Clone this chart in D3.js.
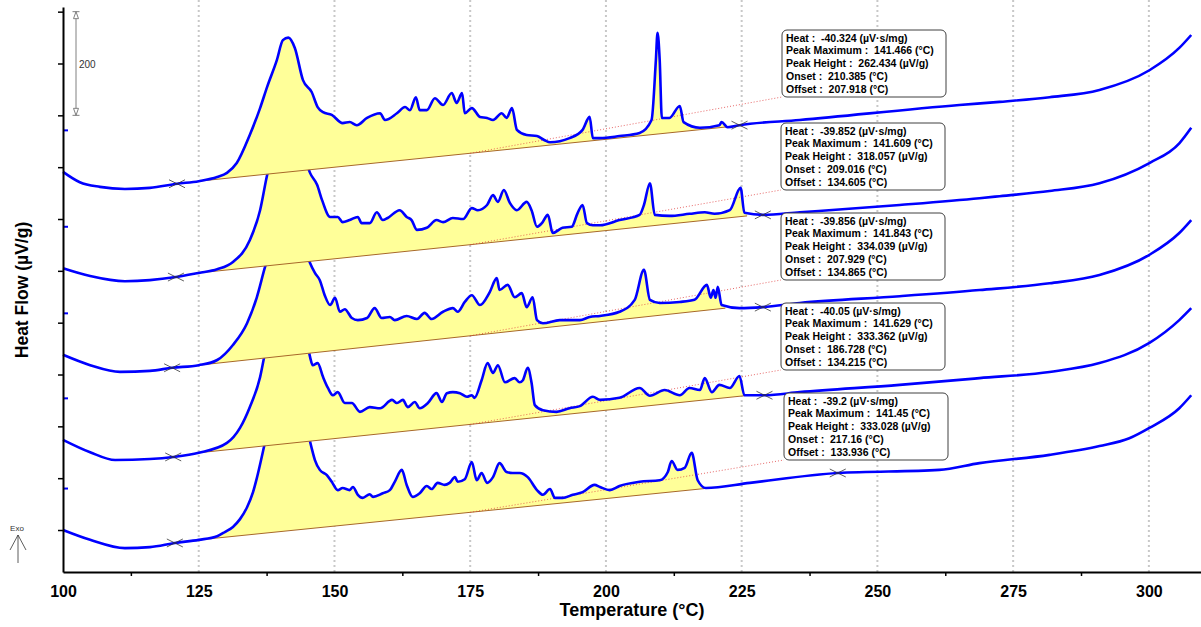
<!DOCTYPE html>
<meta charset="utf-8">
<style>
body { margin: 0; background: #fff; }
svg { display: block; font-family: "Liberation Sans", Arial, sans-serif; }
.box text { font-size: 10.5px; font-weight: bold; white-space: pre; fill: #000; }
</style>
<svg width="1201" height="627"></svg>
<script src="https://d3js.org/d3.v7.min.js"></script>
<script>

// ---------------- data (temperature in °C, heat flow in µV/g incl. stack offset) -------------
var xTicks = [100, 125, 150, 175, 200, 225, 250, 275, 300];
var xMinor = [112.5, 137.5, 162.5, 187.5, 212.5, 237.5, 262.5, 287.5];
var yTicks = [100, 200, 300, 400, 500, 600, 700, 800, 900, 1000, 1100];

var curve1 = [[100,791],[103.1,771],[106.8,762],[111.4,758],[116.0,760],[121.0,768],[125.0,773],[128.4,781],[130.2,789],[132.0,808],[134.4,862],[136.3,914],[137.6,955],[139.4,1007],[140.5,1045],[141.5,1050],[142.7,1030],[144.2,968],[145.8,945],[146.9,916],[147.9,906],[149.5,901],[151.5,885],[152.8,887],[154.1,881],[156.0,895],[158.4,904],[159.3,891],[161.5,904],[163.0,916],[163.9,910],[165.0,935],[165.7,910],[167.0,910],[168.5,933],[170.0,920],[171.6,943],[172.5,924],[173.5,943],[174.0,904],[175.3,914],[176.8,897],[178.1,895],[179.2,891],[180.8,904],[181.7,895],[182.7,914],[183.6,872],[185.4,862],[187.3,860],[188.7,852],[189.7,848],[193.3,856],[195.7,872],[197.0,897],[197.6,856],[198.9,856],[202.5,860],[206.2,866],[208.4,891],[209.2,1007],[209.5,1059],[209.9,1007],[210.3,895],[211.7,895],[213.6,918],[214.3,887],[217.3,876],[220.9,881],[221.3,887],[222.4,877],[224.6,881],[235.7,891],[265.1,920],[272.5,926],[281.7,935],[290.9,949],[300.1,987],[305.6,1030],[307.8,1055]];

var curve2 = [[100,605],[105.0,590],[111.4,580],[116.0,582],[120.8,588],[125.0,596],[128.4,603],[131.3,617],[134.4,659],[136.3,717],[137.6,785],[139.4,852],[140.5,910],[141.6,939],[142.7,910],[144.2,833],[145.5,789],[146.8,766],[147.7,737],[149.2,704],[150.6,704],[151.5,694],[152.8,698],[154.3,704],[155.0,692],[156.5,692],[157.8,713],[158.9,698],[159.8,702],[162.0,717],[163.3,704],[164.2,698],[165.2,679],[167.0,683],[168.8,698],[170.0,694],[171.8,702],[173.7,700],[175.3,721],[176.4,717],[178.1,727],[179.2,746],[180.1,733],[181.2,756],[182.3,731],[183.6,717],[185.4,733],[186.3,717],[187.3,685],[188.2,692],[189.3,708],[190.2,673],[192.0,683],[193.7,685],[194.8,712],[195.7,727],[196.5,692],[197.6,688],[198.9,688],[202.5,698],[206.2,708],[207.0,727],[208.1,769],[209.0,708],[211.7,706],[215.4,710],[218.2,713],[220.0,710],[222.8,717],[224.8,760],[225.5,712],[228.9,708],[235.7,713],[254.1,727],[268.8,740],[272.5,744],[281.7,754],[290.9,769],[300.1,808],[305.6,846],[307.8,876]];

var curve3 = [[100,438],[105.0,418],[110.5,405],[116.0,407],[120.1,413],[125.0,418],[128.4,428],[131.3,457],[133.9,499],[135.7,549],[137.2,607],[139.4,679],[140.5,727],[141.8,756],[143.1,727],[144.2,659],[145.5,615],[146.4,596],[147.3,582],[148.2,553],[149.2,534],[150.1,548],[151.0,521],[151.9,526],[153.2,509],[154.3,505],[156.0,509],[157.4,528],[158.7,509],[160.2,511],[161.1,505],[163.3,513],[165.2,507],[166.6,519],[167.9,507],[170.0,521],[171.8,528],[172.7,521],[174.0,540],[175.3,553],[176.8,534],[178.6,559],[179.9,586],[180.4,563],[181.9,573],[183.2,549],[184.5,557],[185.4,530],[186.5,549],[187.3,505],[188.4,499],[191.5,505],[195.2,505],[197.0,511],[198.9,513],[202.5,521],[205.3,544],[207.0,602],[208.1,544],[209.9,538],[213.6,540],[216.3,544],[218.6,573],[219.3,548],[219.8,563],[220.2,548],[220.6,569],[221.3,534],[224.6,528],[228.9,530],[235.7,538],[254.1,551],[268.8,563],[281.7,576],[290.9,592],[300.1,631],[305.6,673],[307.8,698]];

var curve4 = [[100,274],[105.0,250],[109.6,235],[116.0,237],[120.3,241],[125.0,249],[130.2,268],[132.6,297],[134.4,337],[136.3,395],[137.2,441],[139.4,524],[140.5,573],[141.6,592],[143.1,563],[144.6,486],[145.5,434],[146.0,418],[146.9,422],[147.9,395],[148.8,374],[149.7,360],[150.6,366],[151.9,345],[153.2,345],[154.7,328],[156.5,337],[158.4,335],[160.6,351],[161.5,345],[162.6,351],[163.5,337],[164.8,347],[165.7,335],[167.2,345],[168.8,364],[169.8,347],[170.7,364],[171.8,366],[173.1,364],[174.4,357],[175.3,360],[175.8,355],[177.1,389],[178.2,422],[179.2,403],[180.1,418],[181.4,385],[183.2,393],[184.1,385],[184.7,389],[185.6,413],[186.3,384],[186.9,341],[188.4,331],[190.9,328],[193.3,335],[195.2,339],[197.6,357],[198.9,351],[202.5,355],[206.2,374],[208.1,359],[210.8,370],[213.6,360],[215.4,374],[217.3,370],[218.2,393],[219.5,366],[220.9,380],[222.8,374],[224.6,397],[225.5,360],[229.2,360],[235.7,366],[254.1,380],[268.8,393],[281.7,405],[290.9,422],[300.1,461],[305.6,505],[307.8,528]];

var curve5 = [[100,100],[105.0,81],[111.4,65],[116.0,67],[120.6,75],[125.0,81],[128.4,88],[129.8,96],[131.3,106],[132.6,121],[133.9,144],[135.0,173],[135.7,200],[136.8,250],[138.1,312],[139.4,370],[140.5,413],[141.4,424],[142.7,399],[144.2,331],[145.8,258],[146.4,235],[147.3,216],[148.6,206],[149.5,193],[150.6,177],[151.5,181],[152.8,177],[153.4,183],[154.3,168],[155.2,162],[156.5,169],[157.1,164],[158.9,171],[160.2,177],[161.1,193],[162.4,216],[163.3,187],[164.4,164],[165.7,171],[167.0,185],[167.9,179],[169.0,191],[170.3,187],[171.2,191],[172.2,202],[172.7,193],[174.0,198],[175.3,231],[176.2,196],[177.1,210],[178.1,191],[179.2,202],[180.4,229],[181.7,212],[182.8,210],[184.1,210],[185.6,202],[187.3,177],[188.4,168],[189.7,179],[190.6,162],[192.0,162],[193.9,168],[195.7,173],[197.9,187],[198.9,183],[200.7,177],[202.5,185],[206.2,193],[209.9,196],[211.4,212],[212.1,233],[213.2,216],[214.5,220],[215.8,249],[216.9,196],[218.4,181],[226.5,191],[242.7,210],[261.4,216],[268.8,229],[281.7,245],[290.9,262],[296.4,277],[300.1,297],[305.6,335],[307.8,360]];

var curves = [curve1, curve2, curve3, curve4, curve5];

// integration baselines: [start, end] as [°C, µV/g]
var baselines = [
  [[125, 773], [223.5, 879]],
  [[125, 596], [226.0, 706]],
  [[125, 418], [222.0, 528]],
  [[125, 249], [225.5, 359]],
  [[125, 81],  [218.2, 180]]
];
// temperatures of the x markers on each curve
var markTemps = [[121.0, 224.6], [120.8, 228.9], [120.1, 228.9], [120.3, 229.2], [120.6, 242.7]];

var heatVals   = ["-40.324", "-39.852", "-39.856", "-40.05", "-39.2"];
var peakMaxes  = ["141.466", "141.609", "141.843", "141.629", "141.45"];
var peakHts    = ["262.434", "318.057", "334.039", "333.362", "333.028"];
var onsets     = ["210.385", "209.016", "207.929", "186.728", "217.16"];
var offsets    = ["207.918", "134.605", "134.865", "134.215", "133.936"];

// ---------------- layout -------------
var svg = d3.select("svg");
var plotL = 63, plotR = 1201, plotT = 7, plotB = 572;
var boxPos = [[782, 30], [781, 123], [781, 213], [781, 303], [784, 393]];
var boxW = 164, boxH = 67;

var x = d3.scaleLinear().domain([100, 309.6]).range([plotL, plotR]);
var y = d3.scaleLinear().domain([19, 1109]).range([plotB, plotT]);

function interp(c, t) {
  for (var i = 1; i < c.length; i++) {
    if (c[i][0] >= t) {
      var a = c[i - 1], b = c[i];
      return a[1] + (b[1] - a[1]) * (t - a[0]) / (b[0] - a[0]);
    }
  }
  return c[c.length - 1][1];
}
function baseAt(b, t) {
  return b[0][1] + (b[1][1] - b[0][1]) * (t - b[0][0]) / (b[1][0] - b[0][0]);
}

// dotted vertical grid
svg.append("g").selectAll("line")
   .data(xTicks.slice(1))
   .join("line")
   .attr("x1", d => x(d)).attr("x2", d => x(d))
   .attr("y1", 0).attr("y2", plotB)
   .attr("stroke", "#c8c8c8")
   .attr("stroke-width", 2)
   .attr("stroke-dasharray", "2,3");

var line = d3.line().x(d => x(d[0])).y(d => y(d[1])).curve(d3.curveMonotoneX);

var plot = svg.append("g");

// bottom curve first so the fill of the curve above covers it
curves.slice().reverse().forEach(function (c, r) {
  var k = curves.length - 1 - r, b = baselines[k];
  var g = plot.append("g");

  var pts = [[b[0][0], interp(c, b[0][0])]]
      .concat(c.filter(d => d[0] > b[0][0] && d[0] < b[1][0]))
      .concat([[b[1][0], interp(c, b[1][0])]]);

  g.append("path")
   .datum(pts)
   .attr("fill", "#ffff99")
   .attr("d", d3.area()
        .x(d => x(d[0]))
        .y0(d => y(baseAt(b, d[0])))
        .y1(d => y(d[1]))
        .curve(d3.curveMonotoneX));

  g.append("line")
   .attr("x1", x(b[0][0])).attr("y1", y(b[0][1]))
   .attr("x2", x(b[1][0])).attr("y2", y(b[1][1]))
   .attr("stroke", "#a8682a")
   .attr("stroke-width", 1);

  // leader to the result box
  g.append("line")
   .attr("x1", x(175)).attr("y1", y(baseAt(b, 175)))
   .attr("x2", boxPos[k][0]).attr("y2", boxPos[k][1] + boxH)
   .attr("stroke", "#e04040")
   .attr("stroke-width", 0.8)
   .attr("stroke-dasharray", "1,2");

  g.append("path")
   .datum(c)
   .attr("fill", "none")
   .attr("stroke", "#0000ff")
   .attr("stroke-width", 2.6)
   .attr("stroke-linejoin", "round")
   .attr("d", line);

  // little start marker next to the axis
  g.append("line")
   .attr("x1", plotL + 1).attr("x2", plotL + 5)
   .attr("y1", y(c[0][1] + 80)).attr("y2", y(c[0][1] + 80))
   .attr("stroke", "#0000ff").attr("stroke-width", 2);

  markTemps[k].forEach(function (t) {
    var cx = x(t), cy = y(interp(c, t));
    g.append("path")
     .attr("d", "M" + (cx - 8) + "," + (cy - 4) + "L" + (cx + 8) + "," + (cy + 4) +
                "M" + (cx - 8) + "," + (cy + 4) + "L" + (cx + 8) + "," + (cy - 4))
     .attr("stroke", "#333")
     .attr("stroke-width", 0.8)
     .attr("fill", "none");
  });
});

// ---------------- axes -------------
var xAxis = svg.append("g")
   .attr("transform", "translate(0," + plotB + ")")
   .call(d3.axisBottom(x).tickValues(xTicks).tickSize(0).tickPadding(14));
xAxis.select(".domain").attr("stroke", "#000").attr("stroke-width", 2);
xAxis.selectAll("text")
   .style("font-family", "'Liberation Sans', Arial, sans-serif")
   .style("font-size", "16px")
   .style("font-weight", "bold")
   .attr("fill", "#000");

svg.append("g")
   .attr("transform", "translate(0," + plotB + ")")
   .call(d3.axisBottom(x).tickValues(xMinor).tickSize(4).tickFormat(""))
   .call(g => g.select(".domain").remove())
   .selectAll("line").attr("stroke", "#000").attr("stroke-width", 1.5);

var yAxis = svg.append("g")
   .attr("transform", "translate(" + plotL + ",0)")
   .call(d3.axisLeft(y).tickValues(yTicks).tickSize(5).tickSizeOuter(0).tickFormat(""));
yAxis.select(".domain").attr("stroke", "#000").attr("stroke-width", 2);
yAxis.selectAll(".tick line").attr("stroke", "#000").attr("stroke-width", 1.5);

svg.append("text")
   .attr("x", 632).attr("y", 616)
   .attr("text-anchor", "middle")
   .style("font-size", "18px").style("font-weight", "bold")
   .text("Temperature (°C)");

svg.append("text")
   .attr("transform", "translate(28,290) rotate(-90)")
   .attr("text-anchor", "middle")
   .style("font-size", "17.5px").style("font-weight", "bold")
   .text("Heat Flow (µV/g)");

// ---------------- 200 µV/g scale bar -------------
var sbX = 76, sbTop = y(1100), sbBot = y(1100 - 200);
var sb = svg.append("g").attr("stroke", "#808080").attr("fill", "none").attr("stroke-width", 1);
sb.append("line").attr("x1", sbX).attr("x2", sbX).attr("y1", sbTop).attr("y2", sbBot);
sb.append("line").attr("x1", sbX - 3.5).attr("x2", sbX + 3.5).attr("y1", sbTop).attr("y2", sbTop);
sb.append("line").attr("x1", sbX - 3.5).attr("x2", sbX + 3.5).attr("y1", sbBot).attr("y2", sbBot);
sb.append("path").attr("d", "M" + sbX + "," + sbTop + "l-2.5,7h5z").attr("fill", "#fff");
sb.append("path").attr("d", "M" + sbX + "," + sbBot + "l-2.5,-7h5z").attr("fill", "#fff");
svg.append("text")
   .attr("x", sbX + 3).attr("y", (sbTop + sbBot) / 2 + 4)
   .style("font-size", "10px").attr("fill", "#333")
   .text("200");

// ---------------- Exo arrow -------------
svg.append("text")
   .attr("x", 17).attr("y", 531)
   .attr("text-anchor", "middle")
   .style("font-size", "8px").attr("fill", "#333")
   .text("Exo");
svg.append("path")
   .attr("d", "M18,563V535M10,550L18,535L26,550")
   .attr("stroke", "#333").attr("stroke-width", 0.8).attr("fill", "none");

// ---------------- result boxes -------------
boxPos.forEach(function (p, i) {
  var g = svg.append("g").attr("class", "box").attr("transform", "translate(" + p[0] + "," + p[1] + ")");
  g.append("rect")
   .attr("width", boxW).attr("height", boxH)
   .attr("rx", 5).attr("ry", 5)
   .attr("fill", "#fff").attr("stroke", "#404040").attr("stroke-width", 1);
  var lines = [
    "Heat :  " + heatVals[i] + " (µV·s/mg)",
    "Peak Maximum :  " + peakMaxes[i] + " (°C)",
    "Peak Height :  " + peakHts[i] + " (µV/g)",
    "Onset :  " + onsets[i] + " (°C)",
    "Offset :  " + offsets[i] + " (°C)"
  ];
  g.selectAll("text").data(lines).join("text")
   .attr("x", 4).attr("y", (d, j) => 11.5 + j * 12.8)
   .text(d => d);
});

</script>
